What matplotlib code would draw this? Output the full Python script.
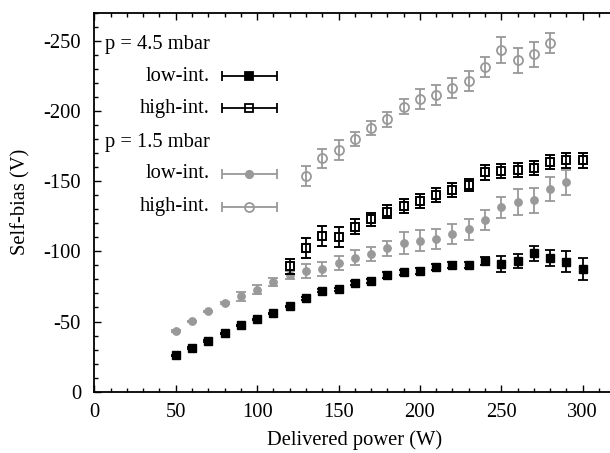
import matplotlib
matplotlib.use("Agg")
import matplotlib.pyplot as plt
from matplotlib.ticker import MultipleLocator

plt.rcParams['font.family'] = ['Liberation Serif', 'DejaVu Serif']
plt.rcParams['axes.unicode_minus'] = False

# Delivered power (W)
power_hi_low = list(range(50, 310, 10))
power_hi_high = list(range(120, 310, 10))
power_lo_low = list(range(50, 300, 10))
power_lo_high = list(range(130, 290, 10))

# p = 4.5 mbar, low-int.
bias_hi_low = [-26, -31, -36, -41.6, -47.3, -51.6, -55.8, -60.8, -66.5, -72, -72.9, -77.2, -78.8,
               -83.1, -85, -86.2, -89, -90.2, -90.2, -93.3, -91, -93.1, -98.6, -95.5, -92.6, -87.4]
err_hi_low = [0.5, 0.5, 0.5, 0.5, 0.5, 0.5, 0.5, 0.5, 1, 1, 1, 1.5, 1.5,
              2, 2, 2, 2, 2, 2, 3, 5.6, 5.3, 5.3, 5.6, 7.5, 7.5]

# p = 4.5 mbar, high-int.
bias_hi_high = [-89.5, -102.6, -111.1, -110, -117.5, -122.8, -128.2, -132.3, -136, -140.1,
                -143.7, -147.2, -156.3, -157.2, -157.9, -159.6, -163.4, -165, -165]
err_hi_high = [5.3, 7, 7, 7, 5.2, 4.7, 4.7, 5, 5, 4.7, 5, 4.5, 5.3, 5, 5, 5, 5, 5.3, 5.3]

# p = 1.5 mbar, low-int.
bias_lo_low = [-43.3, -50.1, -57.2, -63.1, -67.9, -72.8, -78.2, -83.1, -86.2, -87.4, -91.4, -95.5,
               -98, -102.1, -106.1, -107.6, -108.8, -112.3, -115.6, -122.3, -131.3, -135.3,
               -136.3, -144.4, -149.1]
err_lo_low = [0.5, 0.5, 0.5, 0.5, 3, 3, 3, 3, 5, 5, 5, 5.5, 5, 5.5, 7.7, 7.7, 7.1, 7.3, 7.3, 7.1,
              7.5, 9.3, 9.1, 8.9, 8.9]

# p = 1.5 mbar, high-int.
bias_lo_high = [-153.6, -166.2, -172.2, -180, -187.8, -194.2, -203, -208.5, -211.3, -216.1,
                -221.6, -231.3, -243.4, -236.2, -240.3, -248.4]
err_lo_high = [6.9, 7, 7, 5, 5, 5.3, 5.2, 7.1, 7.1, 7.1, 7.1, 6.9, 9.2, 9, 9.1, 7.1]

xticks = [0, 50, 100, 150, 200, 250, 300]
yticks = [0, -50, -100, -150, -200, -250]

gray = '#999999'
fig = plt.figure(figsize=(6.10, 4.53), dpi=100)
W, H = 610, 453
ax = fig.add_axes([94.3 / W, (H - 391.7) / H, 521 / W, 379 / H])

lw = 1.3
cap = 3.6
ms_fs, ms_os, ms_fc, ms_oc = 5.8, 6.0, 5.3, 6.5
ax.errorbar(power_lo_low, bias_lo_low, yerr=err_lo_low, fmt='o', color=gray, ms=ms_fc,
            mec=gray, mfc=gray, elinewidth=lw, capsize=cap, capthick=lw, zorder=3)
ax.errorbar(power_lo_high, bias_lo_high, yerr=err_lo_high, fmt='o', color=gray, ms=ms_oc,
            mec=gray, mfc='none', mew=1.3, elinewidth=lw, capsize=cap, capthick=lw, zorder=3)
ax.errorbar(power_hi_low, bias_hi_low, yerr=err_hi_low, fmt='s', color='black', ms=ms_fs,
            mec='black', mfc='black', elinewidth=lw, capsize=cap, capthick=lw, zorder=4)
ax.errorbar(power_hi_high, bias_hi_high, yerr=err_hi_high, fmt='s', color='black', ms=ms_os,
            mec='black', mfc='none', mew=1.4, elinewidth=lw, capsize=cap, capthick=lw, zorder=4)

fs = 14.8
ax.set_xlim(0, 320)
ax.set_ylim(0, -270)
ax.set_xticks(xticks)
ax.set_yticks(yticks)
ax.set_yticklabels([str(v) for v in yticks])
ax.xaxis.set_minor_locator(MultipleLocator(10))
ax.yaxis.set_minor_locator(MultipleLocator(10))
ax.tick_params(which='both', direction='in', top=True, right=False, labelsize=fs, width=1)
ax.tick_params(which='major', length=5)
ax.tick_params(which='minor', length=3)
ax.tick_params(axis='y', which='major', pad=9.5)
ax.tick_params(axis='x', which='major', pad=8)
for s in ax.spines.values():
    s.set_linewidth(1.3)

ax.set_xlabel('Delivered power (W)', fontsize=fs, labelpad=6)
ax.set_ylabel('Self-bias (V)', fontsize=fs, labelpad=9)

# legend (drawn manually, gnuplot style)
ax.text(6.6, -247.6, 'p = 4.5 mbar', ha='left', va='center', fontsize=fs)
ax.text(6.6, -177.2, 'p = 1.5 mbar', ha='left', va='center', fontsize=fs)
entries = [
    ('low-int.', -224.9, 'black', 's', 'black', ms_fs),
    ('high-int.', -202.1, 'black', 's', 'none', ms_os),
    ('low-int.', -155.1, gray, 'o', gray, ms_fc),
    ('high-int.', -131.6, gray, 'o', 'none', ms_oc),
]
for label, yy, col, mk, fc, ms in entries:
    ax.text(71.1, yy, label, ha='right', va='center', fontsize=fs)
    ax.errorbar([95.3], [yy], xerr=[16.9], fmt=mk, color=col, mec=col, mfc=fc, ms=ms,
                mew=1.3, elinewidth=lw, capsize=cap, capthick=lw, clip_on=False)

fig.savefig('out.png', dpi=100)
